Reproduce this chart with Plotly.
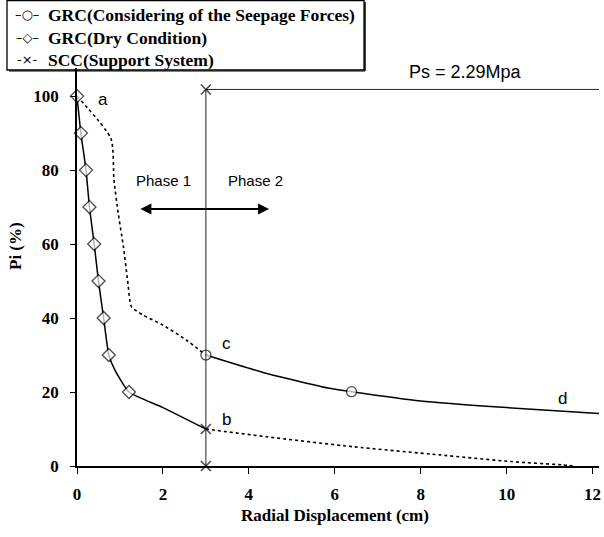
import plotly.graph_objects as go

# ---- data ----
dry_x = [0.0, 0.09, 0.21, 0.29, 0.40, 0.50, 0.62, 0.74, 0.88, 1.21, 2.0, 3.0]
dry_y = [100, 90, 80, 70, 60, 50, 40, 30, 26, 20, 15.8, 10]
dry_marker = [1, 1, 1, 1, 1, 1, 1, 1, 0, 1, 0, 0]

dry_tail_x = [3.0, 4.41, 6.43, 8.44, 10.1, 11.3, 11.6]
dry_tail_y = [10, 7.9, 5.2, 3.0, 1.2, 0.3, 0.0]

seep_dot_x = [0.0, 0.79, 0.86, 0.96, 1.08, 1.18, 1.27, 1.54, 2.0, 2.55, 3.0]
seep_dot_y = [100, 88.5, 77.3, 68.3, 59.3, 50.0, 43.0, 40.8, 38.1, 34.0, 30.0]

seep_x = [3.0, 4.33, 5.88, 6.39, 8.0, 10.0, 12.15]
seep_y = [30.0, 25.3, 21.0, 20.1, 17.6, 15.8, 14.2]
seep_marker = [1, 0, 0, 1, 0, 0, 0]

scc_x = [3.0, 3.0, 3.0, 12.15]
scc_y = [0.0, 10.0, 101.8, 101.8]
scc_marker = [1, 1, 1, 0]

legend_names = ["GRC(Considering of the Seepage Forces)", "GRC(Dry Condition)",
                "SCC(Support System)"]
legend_glyphs = ["–○–", "–◇–", "-×-"]

label_text = ["a", "b", "c", "d"]
label_x = [0.6, 3.48, 3.47, 11.3]
label_y = [99, 12.7, 33, 18.3]

phase_text = ["Phase 1", "Phase 2"]
phase_x = [2.02, 4.15]
phase_y = [77.3, 77.3]
arrow_x = [1.44, 4.47]
arrow_y = [69.5, 69.5]

ps_text = "Ps = 2.29Mpa"
ps_x, ps_y = 9.05, 106.6

x_ticks = [0, 2, 4, 6, 8, 10, 12]
y_ticks = [0, 20, 40, 60, 80, 100]

SERIF = "Liberation Serif, Times New Roman, serif"
SANS = "Liberation Sans, Arial, sans-serif"

W, H = 604, 537
ML, MR, MT, MB = 77, 5, 68, 71
PW, PH = W - ML - MR, H - MT - MB


def px_x(p):
    return (p - ML) / PW


def px_y(p):
    return (H - MB - p) / PH


fig = go.Figure()

fig.add_trace(go.Scatter(
    x=seep_dot_x, y=seep_dot_y, mode="lines", showlegend=False,
    line=dict(color="black", width=1.6, dash="dot", shape="spline", smoothing=0.6),
    hoverinfo="skip"))
fig.add_trace(go.Scatter(
    x=seep_x, y=seep_y, mode="lines+markers", name=legend_names[0], showlegend=False,
    line=dict(color="black", width=1.5, shape="spline", smoothing=0.6),
    marker=dict(symbol="circle", color="white", size=[10 * m for m in seep_marker],
                line=dict(color="black", width=1.3)),
    cliponaxis=False))
fig.add_trace(go.Scatter(
    x=dry_x, y=dry_y, mode="lines+markers", name=legend_names[1], showlegend=False,
    line=dict(color="black", width=1.5, shape="spline", smoothing=0.5),
    marker=dict(symbol="diamond", color="white", size=[10 * m for m in dry_marker],
                line=dict(color="black", width=1.3)),
    cliponaxis=False))
fig.add_trace(go.Scatter(
    x=dry_tail_x, y=dry_tail_y, mode="lines", showlegend=False,
    line=dict(color="black", width=1.6, dash="dot", shape="spline", smoothing=0.5),
    hoverinfo="skip"))
fig.add_trace(go.Scatter(
    x=scc_x, y=scc_y, mode="lines+markers", name=legend_names[2], showlegend=False,
    line=dict(color="#222", width=1),
    marker=dict(symbol="x-thin-open", color="black", size=[10 * m for m in scc_marker],
                line=dict(color="black", width=1.6)),
    cliponaxis=False))

annotations = []
for t, x, y in zip(label_text, label_x, label_y):
    annotations.append(dict(x=x, y=y, text=t, showarrow=False,
                            font=dict(family=SANS, size=17, color="black")))
for t, x, y in zip(phase_text, phase_x, phase_y):
    annotations.append(dict(x=x, y=y, text=t, showarrow=False,
                            font=dict(family=SANS, size=15, color="black")))
annotations.append(dict(x=arrow_x[1], y=arrow_y[1], ax=arrow_x[0], ay=arrow_y[0],
                        axref="x", ayref="y", xref="x", yref="y", text="",
                        showarrow=True, arrowhead=2, arrowside="end+start",
                        arrowsize=1.1, arrowwidth=2, arrowcolor="black"))
annotations.append(dict(x=ps_x, y=ps_y, text=ps_text, showarrow=False,
                        font=dict(family=SANS, size=18, color="black")))
annotations.append(dict(xref="paper", yref="paper", x=px_x(335), y=px_y(515),
                        xanchor="center", yanchor="middle",
                        text="<b>Radial Displacement (cm)</b>", showarrow=False,
                        font=dict(family=SERIF, size=17, color="black")))
annotations.append(dict(xref="paper", yref="paper", x=px_x(15), y=px_y(246),
                        xanchor="center", yanchor="middle",
                        text="<b>Pi (%)</b>", textangle=-90, showarrow=False,
                        font=dict(family=SERIF, size=17, color="black")))

# legend box (drawn as annotations + frame)
row_py = [15, 37.5, 60]
for name, glyph, py in zip(legend_names, legend_glyphs, row_py):
    annotations.append(dict(xref="paper", yref="paper", x=px_x(27), y=px_y(py),
                            xanchor="center", yanchor="middle", text=glyph,
                            showarrow=False,
                            font=dict(family="DejaVu Sans", size=13, color="black")))
    annotations.append(dict(xref="paper", yref="paper", x=px_x(46), y=px_y(py),
                            xanchor="left", yanchor="middle", text="<b>" + name + "</b>",
                            showarrow=False,
                            font=dict(family=SERIF, size=17.5, color="black")))

shapes = [
    dict(type="rect", xref="paper", yref="paper",
         x0=px_x(7), x1=px_x(364), y0=px_y(70), y1=px_y(0.5),
         line=dict(color="black", width=1.3), fillcolor="white", layer="below"),
    dict(type="line", xref="paper", yref="paper",
         x0=px_x(365), x1=px_x(365), y0=px_y(71), y1=px_y(2),
         line=dict(color="black", width=1.5)),
    dict(type="line", xref="paper", yref="paper",
         x0=px_x(9), x1=px_x(365), y0=px_y(71), y1=px_y(71),
         line=dict(color="black", width=1.2)),
]

fig.update_layout(
    width=W, height=H,
    margin=dict(l=ML, r=MR, t=MT, b=MB, autoexpand=False),
    plot_bgcolor="rgba(0,0,0,0)", paper_bgcolor="white",
    annotations=annotations, shapes=shapes, showlegend=False,
    xaxis=dict(range=[0, 12.15], tickvals=x_ticks, showgrid=False, zeroline=False,
               showline=True, linecolor="black", linewidth=1.5,
               ticks="outside", ticklen=6, tickcolor="black", tickwidth=1.3,
               ticklabeloverflow="allow", ticklabelstandoff=6,
               tickfont=dict(family=SERIF, size=17, color="black", weight="bold")),
    yaxis=dict(range=[0, 107.6], tickvals=y_ticks, showgrid=False, zeroline=False,
               showline=True, linecolor="black", linewidth=1.5,
               ticks="outside", ticklen=5, tickcolor="black", tickwidth=1.3,
               ticklabelstandoff=8,
               tickfont=dict(family=SERIF, size=17, color="black", weight="bold")),
)

fig.write_html("out.html", config={"displayModeBar": False},
               post_script="document.body.style.margin='0';")
